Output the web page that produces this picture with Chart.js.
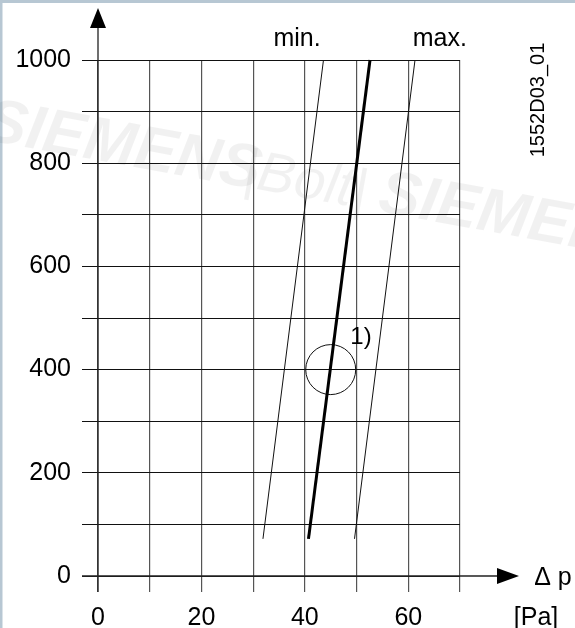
<!DOCTYPE html>
<html>
<head>
<meta charset="utf-8">
<script src="https://cdn.jsdelivr.net/npm/chart.js@4"></script>
<style>
  body { margin: 0; background: #fff; }
  #wrap { position: relative; width: 575px; height: 628px; }
</style>
</head>
<body>
<div id="wrap"><canvas id="grafico" width="575" height="628"></canvas></div>
<script>
// valores
const yCurva = [72, 1000];          // eixo vertical (sem unidade na figura)
const dpMin = [31.9, 43.6];         // curva min.
const dpNominal = [40.7, 52.6];     // curva grossa
const dpMax = [49.6, 61.3];         // curva max.
const pontoCirculo = [45, 400];     // marca 1)
const xRotulos = [0, 20, 40, 60];
const yRotulos = [0, 200, 400, 600, 800, 1000];

const fonte = '"Liberation Sans", Arial, sans-serif';
const pontos = (xs) => xs.map((x, i) => ({ x: x, y: yCurva[i] }));

// fundo, moldura e marca d'agua
const fundoPlugin = {
  id: 'fundo',
  beforeDraw(chart) {
    const ctx = chart.ctx;
    ctx.save();
    ctx.fillStyle = '#fff';
    ctx.fillRect(0, 0, chart.width, chart.height);
    ctx.fillStyle = '#b7c7d3';
    ctx.fillRect(0, 0, chart.width, 3);
    ctx.fillRect(0, 0, 2.5, chart.height);
    ctx.translate(-10, 100);
    ctx.rotate(0.18);
    ctx.fillStyle = 'rgba(0,0,0,0.055)';
    ctx.font = 'italic bold 62px ' + fonte;
    ctx.fillText('SIEMENS', 0, 40);
    ctx.font = 'italic 56px ' + fonte;
    ctx.fillText('|Bolt|', 262, 40);
    ctx.font = 'italic bold 62px ' + fonte;
    ctx.fillText('SIEMENS', 400, 40);
    ctx.restore();
  }
};

// eixos com setas e textos soltos
const textosPlugin = {
  id: 'textos',
  afterDraw(chart) {
    const ctx = chart.ctx;
    const x = chart.scales.x, y = chart.scales.y;
    const x0 = x.getPixelForValue(0), y0 = y.getPixelForValue(0);
    ctx.save();
    ctx.strokeStyle = '#222';
    ctx.lineWidth = 1.3;
    ctx.beginPath();
    ctx.moveTo(x0, 27); ctx.lineTo(x0, y0 + 16);
    ctx.moveTo(x0 - 16, y0); ctx.lineTo(498, y0);
    ctx.stroke();
    ctx.fillStyle = '#000';
    ctx.beginPath();
    ctx.moveTo(x0, 8); ctx.lineTo(x0 - 8, 28); ctx.lineTo(x0 + 8, 28); ctx.closePath();
    ctx.moveTo(519, y0); ctx.lineTo(497, y0 - 8); ctx.lineTo(497, y0 + 8); ctx.closePath();
    ctx.fill();

    ctx.font = '25px ' + fonte;
    ctx.textAlign = 'center';
    ctx.textBaseline = 'alphabetic';
    ctx.fillText('min.', x.getPixelForValue(38.5), 46);
    ctx.fillText('max.', x.getPixelForValue(66.1), 46);
    ctx.fillText('Δ p', 553, y0 + 9);
    ctx.fillText('[Pa]', 536, 625);
    ctx.font = '24px ' + fonte;
    ctx.fillText('1)', 361, 344);

    ctx.font = '20px ' + fonte;
    ctx.translate(544, 100);
    ctx.rotate(-Math.PI / 2);
    ctx.fillText('1552D03_01', 0, 0);
    ctx.restore();
  }
};

const fino = { showLine: true, borderColor: '#111', borderWidth: 1, pointRadius: 0, fill: false, clip: false };

new Chart(document.getElementById('grafico').getContext('2d'), {
  type: 'scatter',
  data: {
    datasets: [
      Object.assign({ label: 'min.', data: pontos(dpMin) }, fino),
      Object.assign({ label: 'max.', data: pontos(dpMax) }, fino),
      Object.assign({}, fino, { label: 'nominal', data: pontos(dpNominal), borderWidth: 3, borderColor: '#000' }),
      {
        label: '1)',
        data: [{ x: pontoCirculo[0], y: pontoCirculo[1] }],
        pointRadius: 25,
        pointBorderWidth: 1,
        pointBorderColor: '#111',
        pointBackgroundColor: 'rgba(0,0,0,0)',
        clip: false
      }
    ]
  },
  options: {
    responsive: false,
    animation: false,
    events: [],
    layout: { padding: { top: 60, right: 115, left: 0, bottom: 0 } },
    plugins: { legend: { display: false }, tooltip: { enabled: false } },
    scales: {
      x: {
        type: 'linear', min: 0, max: 70,
        afterFit: (s) => { s.height = 52; },
        border: { display: false },
        grid: { color: '#555', lineWidth: 1.2, tickLength: 16, tickColor: '#555' },
        ticks: {
          stepSize: 10, autoSkip: false, padding: 11, color: '#000',
          font: { family: fonte, size: 25 },
          callback: (v) => xRotulos.includes(v) ? v : ''
        }
      },
      y: {
        type: 'linear', min: 0, max: 1000,
        afterFit: (s) => { s.width = 98; },
        border: { display: false },
        grid: { color: '#111', lineWidth: 1, tickLength: 16, tickColor: '#111' },
        ticks: {
          stepSize: 100, autoSkip: false, padding: 11, color: '#000',
          font: { family: fonte, size: 25 },
          callback: (v) => yRotulos.includes(v) ? v : ''
        }
      }
    }
  },
  plugins: [fundoPlugin, textosPlugin]
});
</script>
</body>
</html>
